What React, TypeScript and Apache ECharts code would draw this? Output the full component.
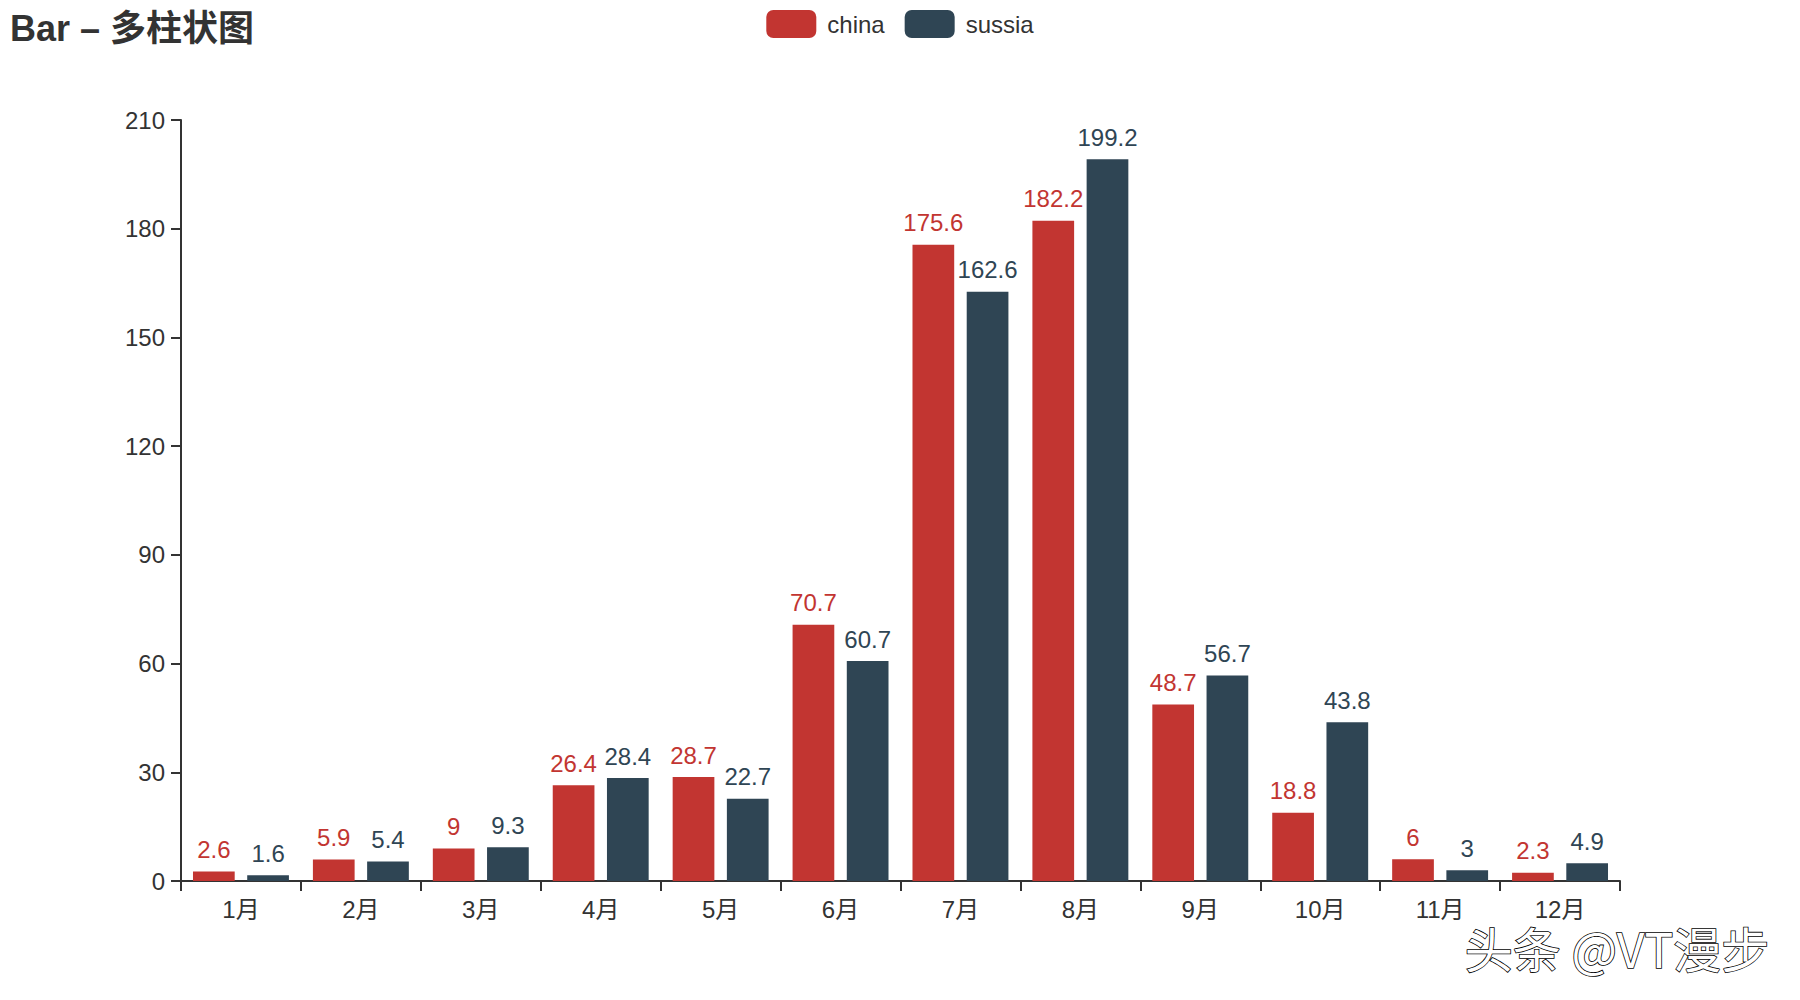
import React, { useEffect, useRef } from "react";
import * as echarts from "echarts";

const months = ["1月", "2月", "3月", "4月", "5月", "6月", "7月", "8月", "9月", "10月", "11月", "12月"];
const chinaValues = [2.6, 5.9, 9, 26.4, 28.7, 70.7, 175.6, 182.2, 48.7, 18.8, 6, 2.3];
const sussiaValues = [1.6, 5.4, 9.3, 28.4, 22.7, 60.7, 162.6, 199.2, 56.7, 43.8, 3, 4.9];
const seriesNames = ["china", "sussia"];
const colors = ["#c23531", "#2f4554"];

const FONT = "'Liberation Sans', 'Noto Sans CJK SC', sans-serif";

export default function App() {
  const ref = useRef<HTMLDivElement>(null);
  useEffect(() => {
    if (!ref.current) return;
    const chart = echarts.init(ref.current, undefined, { renderer: "svg" });
    const axisCommon = {
      axisLine: { show: true, lineStyle: { color: "#333", width: 2 } },
      axisTick: { show: true, length: 10, lineStyle: { color: "#333", width: 2 } },
      axisLabel: { color: "#333", fontSize: 24, margin: 16, fontFamily: FONT },
      splitLine: { show: false },
    };
    chart.setOption({
      animation: false,
      backgroundColor: "#fff",
      textStyle: { fontFamily: FONT },
      title: {
        text: "Bar – 多柱状图",
        left: 0,
        top: 0,
        padding: 10,
        textStyle: { fontSize: 36, fontWeight: "bold", color: "#333", fontFamily: FONT },
      },
      legend: {
        data: seriesNames,
        top: 0,
        left: "center",
        padding: 10,
        itemWidth: 50,
        itemHeight: 28,
        itemGap: 20,
        textStyle: { fontSize: 24, color: "#333", fontFamily: FONT, padding: [0, 0, 0, 6] },
      },
      grid: { left: 181, right: 180, top: 120, bottom: 119, containLabel: false },
      xAxis: {
        type: "category",
        data: months,
        ...axisCommon,
      },
      yAxis: {
        type: "value",
        min: 0,
        max: 210,
        interval: 30,
        ...axisCommon,
      },
      series: [
        {
          name: seriesNames[0],
          type: "bar",
          data: chinaValues,
          barGap: "30%",
          barCategoryGap: "20%",
          itemStyle: { color: colors[0] },
          label: { show: true, position: "top", distance: 10, fontSize: 24, color: colors[0], fontFamily: FONT },
        },
        {
          name: seriesNames[1],
          type: "bar",
          data: sussiaValues,
          barGap: "30%",
          barCategoryGap: "20%",
          itemStyle: { color: colors[1] },
          label: { show: true, position: "top", distance: 10, fontSize: 24, color: colors[1], fontFamily: FONT },
        },
      ],
      graphic: [
        {
          type: "text",
          right: 30,
          bottom: 28,
          style: {
            text: "头条 @VT漫步",
            fontSize: 48,
            lineHeight: 40,
            fontFamily: "'Noto Sans CJK SC', sans-serif",
            fill: "#fff",
            stroke: "#000",
            lineWidth: 1.6,
            shadowColor: "rgba(0,0,0,0.7)",
            shadowBlur: 1,
            shadowOffsetX: 2,
            shadowOffsetY: 2,
          },
        },
      ],
    });
    return () => chart.dispose();
  }, []);
  return (
    <div
      ref={ref}
      style={{ position: "absolute", left: 0, top: 0, width: 1800, height: 1000 }}
    />
  );
}
